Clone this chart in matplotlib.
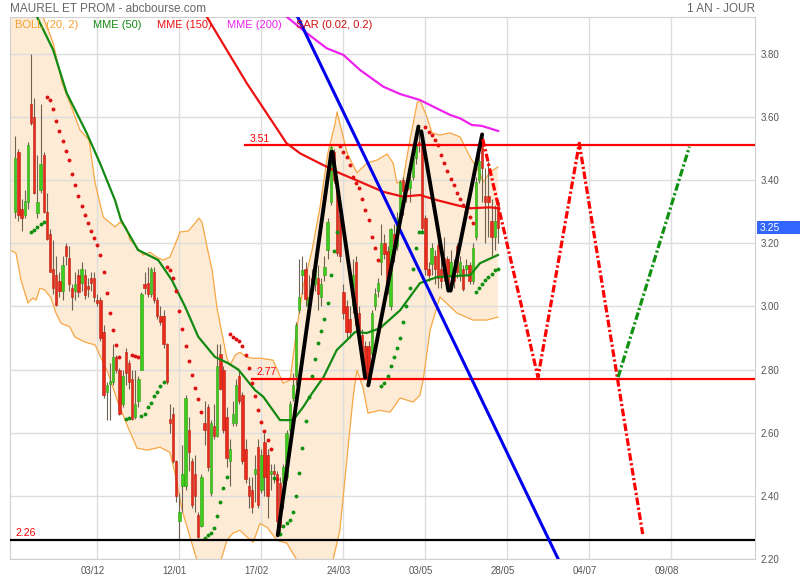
import numpy as np
import matplotlib
matplotlib.use('Agg')
import matplotlib.pyplot as plt
from matplotlib.patches import Rectangle
from matplotlib.transforms import blended_transform_factory, ScaledTranslation

plt.rcParams['font.family'] = ['Liberation Sans', 'DejaVu Sans']

# daily candles, one per trading day (index 0 = first bar on screen)
opens = [3.30, 3.49, 3.31, 3.29, 3.33, 3.64, 3.60, 3.295, 3.37, 3.48,
         3.30, 3.23, 3.12, 3.10, 3.08, 3.05, 3.19, 3.155, 3.06, 3.05,
         3.10, 3.075, 3.10, 3.065, 3.09, 3.09, 3.02, 3.02, 2.92, 2.73,
         2.755, 2.76, 2.84, 2.80, 2.69, 2.855, 2.82, 2.77, 2.65, 2.70,
         2.80, 3.07, 3.075, 3.04, 3.11, 3.02, 2.97, 2.97, 2.88, 2.645,
         2.66, 2.51, 2.32, 2.43, 2.43, 2.61, 2.51, 2.47, 2.34, 2.305,
         2.63, 2.68, 2.41, 2.62, 2.59, 2.85, 2.80, 2.65, 2.51, 2.63,
         2.63, 2.78, 2.72, 2.55, 2.43, 2.42, 2.47, 2.555, 2.42, 2.57,
         2.53, 2.47, 2.48, 2.47, 2.44, 2.44, 2.46, 2.61, 2.71, 2.78,
         2.99, 3.10, 3.12, 3.00, 3.09, 3.07, 3.09, 3.03, 3.10, 3.18,
         3.33, 3.49, 3.39, 3.29, 3.045, 3.00, 2.96, 3.00, 3.14, 2.98,
         2.91, 2.876, 2.876, 2.85, 3.00, 3.05, 3.14, 3.20, 3.175, 3.00,
         3.23, 3.19, 3.28, 3.40, 3.38, 3.375, 3.41, 3.47, 3.52, 3.51,
         3.28, 3.12, 3.135, 3.16, 3.195, 3.12, 3.155, 3.15, 3.10, 3.12,
         3.19, 3.10, 3.12, 3.12, 3.13, 3.08, 3.22, 3.40, 3.535, 3.35,
         3.35, 3.27, 3.22, 3.33]
highs = [3.54, 3.50, 3.34, 3.37, 3.52, 3.80, 3.66, 3.48, 3.64, 3.49,
         3.36, 3.245, 3.21, 3.16, 3.11, 3.16, 3.20, 3.19, 3.07, 3.11,
         3.12, 3.14, 3.12, 3.09, 3.11, 3.11, 3.04, 3.03, 2.94, 2.76,
         2.82, 2.88, 2.845, 2.805, 2.80, 2.87, 2.83, 2.80, 2.80, 2.78,
         3.045, 3.11, 3.125, 3.125, 3.125, 3.03, 3.00, 2.99, 2.885, 2.69,
         2.68, 2.515, 2.41, 2.56, 2.72, 2.65, 2.52, 2.53, 2.35, 2.47,
         2.70, 2.69, 2.64, 2.69, 2.88, 2.88, 2.81, 2.68, 2.58, 2.70,
         2.77, 2.80, 2.73, 2.58, 2.46, 2.46, 2.53, 2.58, 2.55, 2.60,
         2.55, 2.50, 2.50, 2.48, 2.46, 2.50, 2.61, 2.70, 2.79, 2.95,
         3.15, 3.16, 3.14, 3.10, 3.12, 3.15, 3.13, 3.09, 3.16, 3.28,
         3.51, 3.50, 3.39, 3.30, 3.07, 3.02, 3.00, 3.15, 3.16, 3.00,
         2.93, 2.89, 2.89, 2.99, 3.06, 3.09, 3.26, 3.23, 3.19, 3.25,
         3.26, 3.30, 3.40, 3.41, 3.40, 3.42, 3.49, 3.55, 3.57, 3.52,
         3.29, 3.14, 3.20, 3.18, 3.21, 3.17, 3.22, 3.16, 3.18, 3.15,
         3.20, 3.16, 3.13, 3.15, 3.14, 3.20, 3.41, 3.50, 3.545, 3.44,
         3.46, 3.34, 3.32, 3.34]
lows = [3.28, 3.27, 3.24, 3.28, 3.31, 3.575, 3.355, 3.28, 3.36, 3.295,
        3.21, 3.11, 3.04, 3.00, 3.03, 3.02, 3.13, 3.05, 2.99, 3.02,
        3.03, 3.05, 3.025, 3.03, 3.05, 3.015, 3.00, 2.89, 2.71, 2.64,
        2.64, 2.75, 2.79, 2.655, 2.68, 2.75, 2.74, 2.64, 2.645, 2.68,
        2.80, 3.04, 3.03, 3.03, 3.01, 2.96, 2.94, 2.87, 2.755, 2.60,
        2.505, 2.38, 2.26, 2.35, 2.42, 2.48, 2.36, 2.35, 2.265, 2.30,
        2.56, 2.48, 2.40, 2.58, 2.585, 2.735, 2.60, 2.49, 2.43, 2.62,
        2.62, 2.69, 2.50, 2.44, 2.36, 2.345, 2.38, 2.36, 2.41, 2.40,
        2.33, 2.42, 2.44, 2.28, 2.28, 2.36, 2.45, 2.60, 2.70, 2.75,
        2.98, 3.04, 3.00, 2.96, 3.05, 3.05, 2.99, 3.00, 3.08, 3.15,
        3.32, 3.39, 3.16, 3.14, 2.96, 2.90, 2.90, 2.98, 2.92, 2.90,
        2.82, 2.77, 2.75, 2.84, 2.99, 3.03, 3.10, 3.15, 3.04, 2.99,
        3.14, 3.18, 3.26, 3.29, 3.33, 3.33, 3.40, 3.45, 3.49, 3.24,
        3.10, 3.08, 3.10, 3.07, 3.06, 3.06, 3.08, 3.05, 3.05, 3.06,
        3.09, 3.08, 3.05, 3.10, 3.07, 3.07, 3.21, 3.39, 3.33, 3.20,
        3.22, 3.16, 3.18, 3.20]
closes = [3.47, 3.29, 3.28, 3.335, 3.51, 3.58, 3.36, 3.33, 3.45, 3.30,
          3.215, 3.11, 3.06, 3.005, 3.05, 3.13, 3.16, 3.07, 3.03, 3.07,
          3.045, 3.12, 3.035, 3.055, 3.075, 3.03, 3.01, 2.90, 2.72, 2.75,
          2.765, 2.84, 2.80, 2.66, 2.78, 2.79, 2.76, 2.645, 2.69, 2.77,
          3.04, 3.06, 3.04, 3.12, 3.02, 2.97, 2.95, 2.88, 2.76, 2.63,
          2.51, 2.40, 2.35, 2.47, 2.71, 2.54, 2.37, 2.40, 2.27, 2.46,
          2.61, 2.49, 2.63, 2.59, 2.81, 2.74, 2.61, 2.52, 2.55, 2.66,
          2.75, 2.70, 2.51, 2.455, 2.40, 2.365, 2.485, 2.37, 2.53, 2.46,
          2.40, 2.48, 2.47, 2.32, 2.30, 2.49, 2.60, 2.69, 2.75, 2.94,
          3.03, 3.115, 3.025, 3.03, 3.065, 3.12, 3.04, 3.07, 3.125, 3.267,
          3.505, 3.40, 3.17, 3.16, 2.98, 2.92, 2.92, 3.10, 2.94, 2.92,
          2.83, 2.776, 2.76, 2.98, 3.04, 3.075, 3.20, 3.165, 3.07, 3.245,
          3.185, 3.28, 3.395, 3.365, 3.37, 3.40, 3.47, 3.515, 3.51, 3.25,
          3.12, 3.10, 3.185, 3.12, 3.09, 3.08, 3.10, 3.06, 3.14, 3.08,
          3.11, 3.14, 3.055, 3.13, 3.08, 3.185, 3.395, 3.46, 3.44, 3.33,
          3.33, 3.22, 3.27, 3.25]

# parabolic SAR (0.02, 0.2), nan where no dot is visible
nan = float('nan')
sar = [nan, nan, nan, nan, nan, 3.237, 3.242, 3.251, 3.26, 3.268,
       3.662, 3.653, 3.626, 3.589, 3.555, 3.523, 3.491, 3.463, 3.421, 3.384,
       3.349, 3.318, 3.289, 3.263, 3.239, 3.216, 3.195, 3.163, 3.108, 3.042,
       2.979, 2.925, 2.878, 2.841, nan, 2.644, 2.647, 2.847, 2.844, 2.84,
       2.652, 2.66, 2.68, 2.695, 2.715, 2.73, 2.747, 2.761, 3.126, 3.115,
       3.089, 3.049, 2.985, 2.929, 2.875, 2.828, 2.783, 2.743, 2.707, 2.666,
       2.265, 2.276, 2.282, 2.297, 2.336, 2.38, 2.424, 2.461, 2.914, 2.904,
       2.897, 2.89, 2.875, 2.846, 2.806, 2.758, 2.715, 2.671, 2.634, 2.605,
       2.576, 2.55, 2.456, 2.455, 2.28, 2.304, 2.314, 2.323, 2.349, 2.399,
       2.471, 2.552, 2.636, 2.714, 2.78, 2.833, 2.885, 2.923, 2.959, 3.01,
       3.10, 3.177, 3.237, 3.508, 3.49, 3.473, 3.448, 3.41, 3.39, 3.374,
       3.342, 3.307, 3.274, 3.221, 3.184, 3.147, 2.748, 2.758, 2.78, 2.81,
       2.84, 2.87, 2.90, 2.95, 3.00, 3.06, 3.118, 3.184, 3.237, 3.237,
       3.57, 3.554, 3.543, 3.527, 3.51, 3.48, 3.455, 3.43, 3.405, 3.385,
       3.36, 3.34, 3.32, 3.30, 3.285, 3.265, 3.047, 3.059, 3.07, 3.083,
       3.093, 3.104, 3.114, 3.12]

# Bollinger (20, 2) envelope: (bar, price)
boll_up_x = [-1.7, 8.8, 12.0, 14.8, 17.3, 20.5, 23.4, 25.3, 27.9, 31.6, 33.2, 35.1,
             36.4, 38.6, 40.5, 42.7, 44.9, 46.8, 49.0, 50.6, 52.2, 54.8, 57.0, 58.2,
             59.2, 60.8, 62.4, 63.9, 65.5, 67.1, 68.1, 69.7, 71.2, 73.5, 75.4, 77.6,
             81.7, 84.9, 87.1, 89.3, 91.2, 94.1, 96.6, 99.1, 101.4, 102.0, 105.2, 108.3,
             111.5, 114.7, 117.9, 119.8, 121.0, 122.9, 125.1, 127.4, 128.3, 130.5, 132.1,
             134.6, 137.8, 141.0, 144.2, 147.3, 148.3, 150.5, 153.0]
boll_up_y = [3.96, 3.917, 3.835, 3.708, 3.645, 3.559, 3.527, 3.391, 3.283, 3.252, 3.267, 3.252,
             3.21, 3.188, 3.163, 3.172, 3.156, 3.147, 3.156, 3.195, 3.236, 3.239, 3.264, 3.28,
             3.267, 3.188, 3.115, 2.998, 2.916, 2.836, 2.814, 2.846, 2.855, 2.839, 2.836, 2.836,
             2.83, 2.757, 2.767, 2.935, 3.061, 3.179, 3.315, 3.486, 3.581, 3.616, 3.486, 3.423,
             3.454, 3.464, 3.483, 3.454, 3.391, 3.40, 3.527, 3.645, 3.654, 3.60, 3.55,
             3.543, 3.55, 3.537, 3.473, 3.423, 3.394, 3.426, 3.442]
boll_lo_x = [-1.7, 0.2, 1.8, 4.0, 5.6, 6.6, 7.8, 9.4, 11.3, 12.9, 14.5, 17.3, 18.9,
             22.1, 25.3, 29.4, 32.6, 35.7, 38.6, 41.8, 45.9, 49.0, 50.6, 52.9, 55.4,
             57.6, 59.5, 63.3, 65.2, 67.1, 69.0, 71.2, 73.5, 75.4, 77.6, 79.8, 83.0,
             86.1, 89.3, 90.9, 99.1, 100.7, 102.9, 105.5, 107.1, 108.3, 110.2, 111.8,
             115.6, 118.8, 122.0, 124.2, 126.1, 128.3, 129.3, 131.5, 134.6, 140.0,
             145.1, 149.5, 153.0]
boll_lo_y = [3.179, 3.169, 3.084, 3.011, 3.027, 3.02, 3.058, 3.052, 3.027, 2.979, 2.947, 2.935, 2.903,
             2.887, 2.878, 2.789, 2.694, 2.618, 2.551, 2.545, 2.554, 2.538, 2.472, 2.354, 2.269,
             2.196, 2.13, 2.13, 2.196, 2.259, 2.282, 2.291, 2.269, 2.253, 2.313, 2.30, 2.259,
             2.25, 2.196, 2.10, 2.10, 2.196, 2.291, 2.554, 2.713, 2.798, 2.744, 2.662,
             2.671, 2.665, 2.71, 2.703, 2.697, 2.719, 2.767, 2.925, 3.03, 2.979,
             2.957, 2.957, 2.966]

# exponential moving averages: (bar, price)
mme50_x = [6.9, 12.0, 16.3, 22.6, 26.8, 31.6, 33.5, 38.9, 45.3, 49.6, 53.8, 58.0, 63.3,
           67.5, 70.7, 76.0, 78.6, 83.9, 88.1, 91.3, 94.0, 97.7, 101.9, 105.1, 107.7,
           111.4, 115.6, 122.0, 128.3, 133.7, 144.2, 147.3, 153.0]
mme50_y = [3.917, 3.813, 3.676, 3.55, 3.455, 3.337, 3.274, 3.179, 3.147, 3.084, 3.0, 2.904, 2.84,
           2.82, 2.80, 2.735, 2.714, 2.64, 2.64, 2.682, 2.724, 2.776, 2.862, 2.893, 2.919,
           2.916, 2.931, 2.988, 3.074, 3.093, 3.099, 3.137, 3.163]
mme150_x = [60.7, 67.0, 73.4, 79.7, 86.0, 90.3, 96.6, 102.9, 109.3, 116.7, 122.9, 128.3,
            133.6, 139.9, 144.2, 150.5, 153.1]
mme150_y = [3.918, 3.813, 3.707, 3.612, 3.517, 3.485, 3.453, 3.422, 3.395, 3.363, 3.348, 3.353,
            3.337, 3.321, 3.311, 3.314, 3.311]
mme200_x = [86.0, 92.4, 98.7, 104.0, 109.3, 116.7, 122.0, 128.3, 132.5, 137.8, 141.0,
            144.7, 147.9, 153.1]
mme200_y = [3.918, 3.866, 3.818, 3.797, 3.749, 3.696, 3.673, 3.654, 3.633, 3.607, 3.596,
            3.575, 3.572, 3.556]

# drawings on the chart
level_prices = [3.51, 2.77, 2.26]
level_labels = ['3.51', '2.77', '2.26']
level_start = [72.8, 75.0, -1.7]
level_colors = ['#ff0000', '#ff0000', '#000000']
zigzag = [[(83.2, 2.275), (100.2, 3.49)], [(100.5, 3.49), (110.9, 2.775)],
          [(111.9, 2.75), (127.8, 3.57)], [(128.7, 3.555), (137.3, 3.05)],
          [(138.0, 3.05), (148.0, 3.545)]]
trend_x = [88.9, 172.1]
trend_y = [3.93, 2.20]
proj_red_x = [148.2, 165.7, 178.8, 198.9]
proj_red_y = [3.53, 2.776, 3.517, 2.279]
proj_green_x = [191.1, 213.7]
proj_green_y = [2.776, 3.506]

tick_bars = [26, 52, 78, 104, 130, 156, 182, 208]
tick_labels = ['03/12', '12/01', '17/02', '24/03', '03/05', '28/05', '04/07', '09/08']
last_price = 3.25

fig = plt.figure(figsize=(8, 5.8), dpi=100)
ax = fig.add_axes([10 / 800, 21 / 580, 745 / 800, 542 / 580])
ax.set_xlim(-1.68, 234.5)
ax.set_ylim(2.20, 3.917)

# bollinger band
poly_x = boll_up_x + boll_lo_x[::-1]
poly_y = boll_up_y + boll_lo_y[::-1]
ax.fill(poly_x, poly_y, color='#fdebd6', lw=0, zorder=0.2)
ax.plot(boll_up_x, boll_up_y, color='#f7a744', lw=0.9, zorder=1)
ax.plot(boll_lo_x, boll_lo_y, color='#f7a744', lw=0.9, zorder=1)

# candles
o = np.array(opens)
h = np.array(highs)
l = np.array(lows)
c = np.array(closes)
idx = np.arange(len(c))
up = c >= o
ax.vlines(idx, l, h, color='#6e6253', lw=0.8, zorder=2)
body = np.maximum(np.abs(c - o), 0.005)
ax.bar(idx[up], body[up], bottom=o[up], width=0.75, color='#3fcc1c',
       edgecolor='#2a9a10', lw=0.4, zorder=3)
ax.bar(idx[~up], body[~up], bottom=c[~up], width=0.75, color='#ea2a1a',
       edgecolor='#b81e10', lw=0.4, zorder=3)

# moving averages
ax.plot(mme50_x, mme50_y, color='#128a12', lw=1.6, zorder=4)
ax.plot(mme150_x, mme150_y, color='#ee1111', lw=1.6, zorder=4)
ax.plot(mme200_x, mme200_y, color='#ee22ee', lw=1.6, zorder=4)

# SAR dots
s = np.array(sar)
above = s > (h + l) / 2
ax.plot(idx[above], s[above], 'o', color='#dd1111', ms=2.8, mew=0, zorder=5)
ax.plot(idx[~above], s[~above], 'o', color='#119111', ms=2.8, mew=0, zorder=5)

# horizontal levels
for p, lab, x0, col in zip(level_prices, level_labels, level_start, level_colors):
    ax.plot([x0, 234.5], [p, p], color=col, lw=1.6, zorder=6)
    ax.text(x0 + 1.6, p + 0.006, lab, color='#ff0000', fontsize=7.5,
            va='bottom', ha='left', zorder=7)

# trend line, zigzag, projections
ax.plot(trend_x, trend_y, color='#0000ee', lw=2.2, zorder=6)
for seg in zigzag:
    ax.plot([seg[0][0], seg[1][0]], [seg[0][1], seg[1][1]], color='black',
            lw=2.8, solid_capstyle='round', zorder=7)
dashdot = (0, (2.4, 0.8, 0.7, 0.8))
ax.plot(proj_red_x, proj_red_y, color='#ff0000', lw=2.3, ls=dashdot,
        dash_capstyle='butt', zorder=7)
ax.plot(proj_green_x, proj_green_y, color='#119111', lw=2.3, ls=dashdot,
        dash_capstyle='butt', zorder=7)

# axes styling
ax.set_axisbelow(True)
ax.grid(color='#dddddd', lw=1.0)
for sp in ax.spines.values():
    sp.set_color('#cfcfcf')
ax.yaxis.tick_right()
ax.set_yticks(np.arange(2.2, 3.81, 0.2))
ax.set_yticklabels(['%.2f' % v for v in np.arange(2.2, 3.81, 0.2)])
ax.set_xticks(tick_bars)
ax.set_xticklabels(tick_labels)
ax.tick_params(length=0, labelsize=7, labelcolor='#555555')
ax.tick_params(axis='y', pad=4)
ax.tick_params(axis='x', pad=5)
for t in ax.get_xticklabels():
    t.set_transform(t.get_transform() + ScaledTranslation(-0.05, 0, fig.dpi_scale_trans))

# last price tag
tr = blended_transform_factory(ax.transAxes, ax.transData)
ax.add_patch(Rectangle((747 / 745, last_price - 0.022), 45 / 745, 0.044,
                       transform=tr, facecolor='#3366ff', edgecolor='none',
                       clip_on=False, zorder=10))
ax.text(750 / 745, last_price, '%.2f' % last_price, transform=tr, color='white',
        fontsize=7.5, va='center', ha='left', zorder=11)

# title and legend
fig.text(10 / 800, 1 - 9 / 580, 'MAUREL ET PROM - abcbourse.com', color='#666666',
         fontsize=8.5, va='center', ha='left')
fig.text(755 / 800, 1 - 9 / 580, '1 AN - JOUR', color='#666666',
         fontsize=8.5, va='center', ha='right')
legend = [('BOLL (20, 2)', '#f5a030', 15), ('MME (50)', '#128a12', 93),
          ('MME (150)', '#ee1111', 157), ('MME (200)', '#ee22ee', 227),
          ('SAR (0.02, 0.2)', '#cc1111', 296)]
for txt, col, px in legend:
    fig.text(px / 800, 1 - 25 / 580, txt, color=col, fontsize=8, va='center', ha='left')

fig.savefig('out.png', dpi=100)
